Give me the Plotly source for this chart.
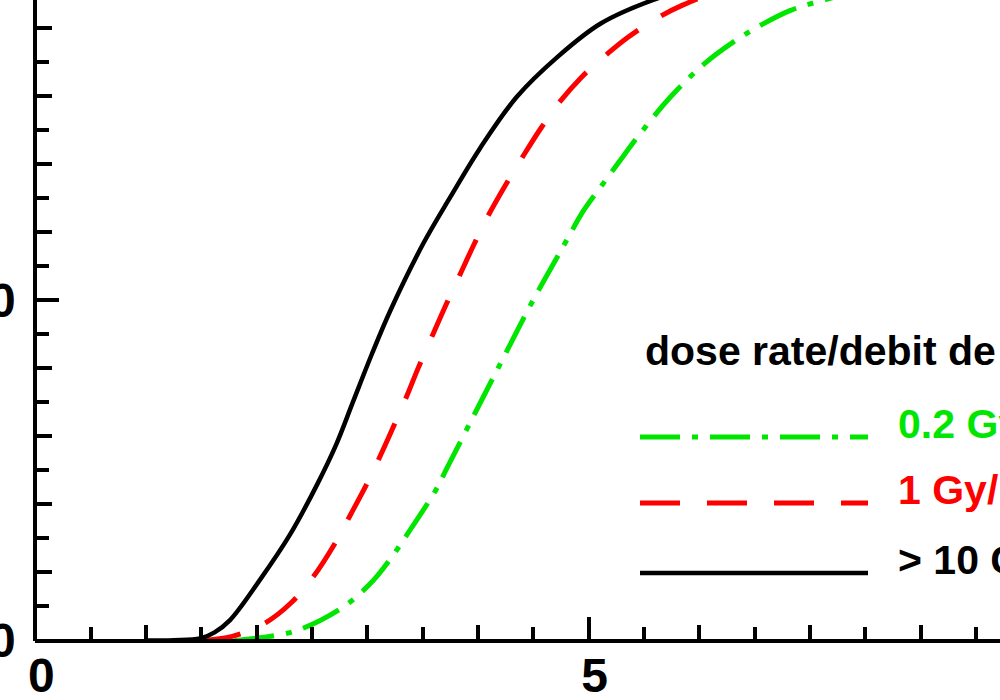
import plotly.graph_objects as go

# ---- data (dose in Gy, mortality in %) ----
dose_02 = [1.80, 2.03, 2.37, 2.78, 3.03, 3.21, 3.39, 3.62, 3.72, 4.04, 4.23, 4.50, 4.72, 4.81,
           4.95, 5.11, 5.29, 5.47, 5.74, 6.04, 6.31, 6.55, 6.82, 7.14, 7.80, 8.80]
mort_02 = [0.0, 0.4, 1.5, 4.9, 8.4, 12.0, 16.3, 22.1, 25.3, 35.5, 41.5, 50.0, 56.4, 59.0,
           63.0, 66.6, 70.6, 74.5, 79.8, 84.6, 87.9, 90.3, 92.5, 94.1, 96.8, 98.8]

dose_1 = [1.50, 1.78, 2.08, 2.31, 2.51, 2.71, 2.85, 3.00, 3.12, 3.25, 3.36, 3.46, 3.60, 3.72,
          3.84, 3.96, 4.09, 4.25, 4.40, 4.56, 4.73, 4.93, 5.11, 5.35, 5.59, 5.85, 6.40, 7.20]
mort_1 = [0.0, 0.6, 2.6, 5.5, 9.3, 14.3, 18.5, 23.1, 27.2, 31.9, 36.0, 40.0, 45.2, 49.6,
          53.8, 58.0, 62.3, 66.9, 70.9, 75.0, 78.9, 82.6, 85.3, 88.5, 91.1, 93.3, 96.5, 98.8]

dose_10 = [1.00, 1.25, 1.49, 1.62, 1.76, 2.03, 2.30, 2.55, 2.72, 2.87, 3.04, 3.21, 3.51, 3.75,
           4.02, 4.35, 4.72, 5.11, 5.59, 6.20, 7.00]
mort_10 = [0.0, 0.05, 0.3, 1.2, 3.0, 8.9, 15.5, 23.0, 28.8, 35.0, 42.0, 48.5, 58.4, 65.1,
           72.3, 79.8, 85.7, 90.6, 94.1, 97.0, 99.0]

legend_title = "dose rate/debit de dose"
series_names = ["0.2 Gy/h", "1 Gy/h", "> 10 Gy/h"]
x_tick_vals = [0, 5, 10]
y_tick_vals = [0, 50, 100]

GREEN = "#00e600"
RED = "#ff0000"
BLACK = "#000000"

W, H = 1000, 700
X0_PX, X_SCALE = 35.3, 110.65      # px of dose 0, px per Gy
Y0_PX, Y_SCALE = 640.5, 6.81       # px (from top) of 0 %, px per %
x_range = [0, (W - X0_PX) / X_SCALE]
y_range = [0, Y0_PX / Y_SCALE]
x_axis_pos = (H - Y0_PX) / H
y_axis_pos = X0_PX / W
x_domain = [y_axis_pos, 1]
y_domain = [x_axis_pos, 1]

fig = go.Figure()
fig.add_trace(go.Scatter(x=dose_02, y=mort_02, mode="lines",
                         line=dict(color=GREEN, width=5, dash="40px,12px,6px,12px",
                                   shape="spline", smoothing=1.0)))
fig.add_trace(go.Scatter(x=dose_1, y=mort_1, mode="lines",
                         line=dict(color=RED, width=5, dash="40px,27px",
                                   shape="spline", smoothing=1.0)))
fig.add_trace(go.Scatter(x=dose_10, y=mort_10, mode="lines",
                         line=dict(color=BLACK, width=4.5, shape="spline", smoothing=1.0)))
# carrier trace for the overlay axes (medium ticks)
fig.add_trace(go.Scatter(x=[None], y=[None], xaxis="x2", yaxis="y2", showlegend=False))

tick_font = dict(family="Liberation Sans, Arial, sans-serif", size=48, color="black", weight="bold")

fig.update_layout(
    width=W, height=H,
    margin=dict(l=0, r=0, t=0, b=0, pad=0),
    paper_bgcolor="white", plot_bgcolor="white",
    showlegend=False,
    xaxis=dict(domain=x_domain, range=x_range, anchor="free", position=x_axis_pos,
               automargin=False,
               showline=True, linecolor="black", linewidth=4,
               showgrid=False, zeroline=False,
               ticks="inside", tickmode="array", tickvals=x_tick_vals,
               ticklen=22, tickwidth=3.5, tickcolor="black",
               tickfont=tick_font, ticklabelshift=6, ticklabelstandoff=-8,
               minor=dict(ticks="inside", tick0=0, dtick=0.5, ticklen=12,
                          tickwidth=3.5, tickcolor="black", showgrid=False)),
    xaxis2=dict(domain=x_domain, range=x_range, overlaying="x", anchor="free", position=x_axis_pos,
                automargin=False,
                showline=False, showgrid=False, zeroline=False, showticklabels=False,
                ticks="inside", tickmode="linear", tick0=0, dtick=1,
                ticklen=16, tickwidth=3.5, tickcolor="black"),
    yaxis=dict(domain=y_domain, range=y_range, anchor="free", position=y_axis_pos,
               automargin=False,
               showline=True, linecolor="black", linewidth=4,
               showgrid=False, zeroline=False,
               ticks="inside", tickmode="array", tickvals=y_tick_vals,
               ticklen=22, tickwidth=3.5, tickcolor="black",
               tickfont=tick_font, ticklabelstandoff=8,
               minor=dict(ticks="inside", tick0=0, dtick=5, ticklen=12,
                          tickwidth=3.5, tickcolor="black", showgrid=False)),
    yaxis2=dict(domain=y_domain, range=y_range, overlaying="y", anchor="free", position=y_axis_pos,
                automargin=False,
                showline=False, showgrid=False, zeroline=False, showticklabels=False,
                ticks="inside", tickmode="linear", tick0=0, dtick=10,
                ticklen=16, tickwidth=3.5, tickcolor="black"),
)

# ---- legend drawn by hand (long sample lines) ----
LEG_FONT = 41
def py(px):
    return 1 - px / H

leg_font = dict(family="Liberation Sans, Arial, sans-serif", size=LEG_FONT, weight="bold")
fig.add_annotation(text=legend_title, xref="paper", yref="paper", x=643 / W,
                   y=py(365 - 0.35 * LEG_FONT), xanchor="left", yanchor="middle",
                   showarrow=False, font=dict(leg_font, color=BLACK))

rows = [(series_names[0], GREEN, "40px,12px,6px,12px", 437, 5),
        (series_names[1], RED, "40px,27px", 503, 5),
        (series_names[2], BLACK, "solid", 573, 4.5)]
for name, col, dash, yb, lw in rows:
    fig.add_shape(type="line", xref="paper", yref="paper",
                  x0=640 / W, x1=868 / W, y0=py(yb), y1=py(yb),
                  line=dict(color=col, width=lw, dash=dash))
    fig.add_annotation(text=name, xref="paper", yref="paper", x=896 / W,
                       y=py(yb + 1 - 0.35 * LEG_FONT), xanchor="left", yanchor="middle",
                       showarrow=False, font=dict(leg_font, color=col))

fig.write_html("out.html")
